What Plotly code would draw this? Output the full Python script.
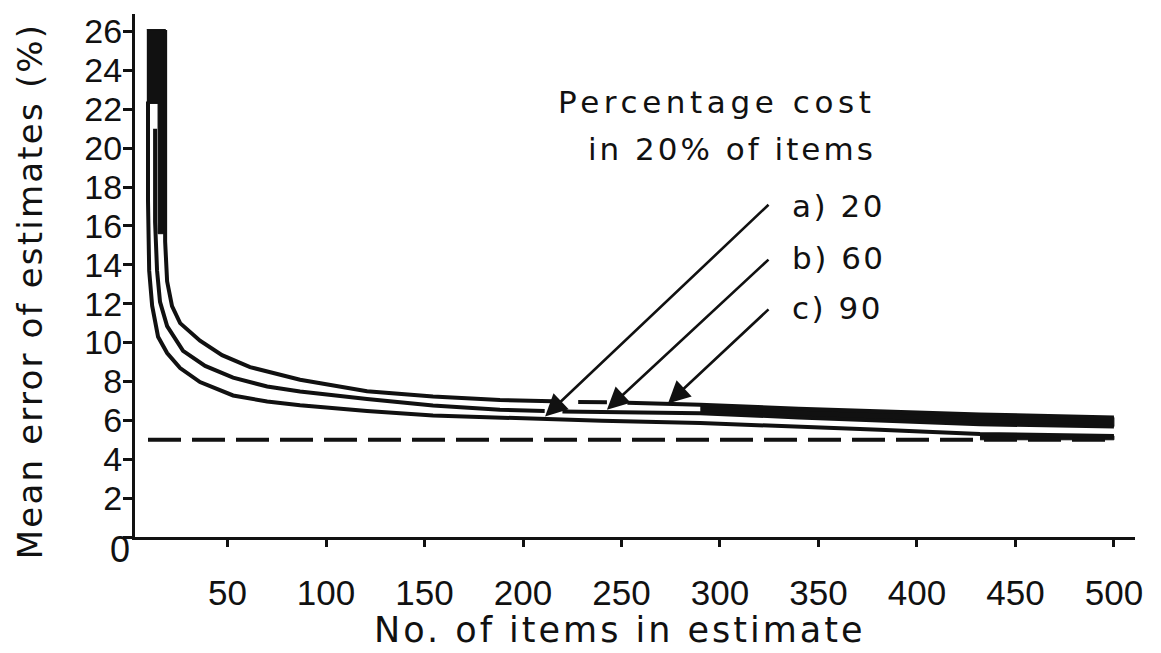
import plotly.graph_objects as go

# Mean error of estimates (%) against number of items in the estimate,
# for three cost concentrations (percentage of cost held in 20% of items).
a_x = [9.6, 9.6, 10.2, 11.7, 14.7, 19.3, 25.9, 36.0, 52.8, 70.1, 86.8, 120.8, 154.3,
       188.3, 211, 240, 290, 340, 381, 432, 500]
a_y = [22.4, 17.3, 13.7, 11.9, 10.3, 9.46, 8.69, 7.97, 7.28, 6.97, 6.78, 6.48, 6.25,
       6.13, 6.06, 5.98, 5.86, 5.7, 5.52, 5.3, 5.2]

b_x = [13.2, 13.2, 14.2, 15.7, 19.3, 27.4, 38.6, 52.8, 70.1, 86.8, 120.8, 154.3,
       188.3, 211, None, 220, 290, 340, 381, 432, 500]
b_y = [21.0, 16.2, 13.7, 12.1, 10.85, 9.57, 8.8, 8.2, 7.74, 7.48, 7.1, 6.76,
       6.54, 6.48, None, 6.45, 6.37, 6.15, 6.0, 5.8, 5.68]

c_x = [18.3, 18.3, 19.3, 21.8, 25.9, 36.0, 47.2, 61.4, 86.8, 120.8, 154.3, 188.3,
       215, None, 228, 242.6, None, 253, 290, 340, 381, 432, 500]
c_y = [26.08, 15.2, 13.15, 11.87, 11.0, 10.1, 9.35, 8.74, 8.09, 7.5, 7.23, 7.05,
       6.98, None, 6.95, 6.93, None, 6.9, 6.8, 6.6, 6.45, 6.3, 6.15]

# inked block where the three curves crowd together at very small samples
block_x = [9.0, 18.5, 18.5, 14.7, 14.7, 9.0]
block_y = [26.1, 26.1, 15.6, 15.6, 22.3, 22.3]

# 5% reference level
ref_x = [9.6, 500]
ref_y = [5, 5]

# curve labels and the points their arrows indicate (tip) / start from (tail)
curve_labels = ["a) 20", "b) 60", "c) 90"]
tip_x = [211.2, 242.6, 273.6]
tip_y = [6.2, 6.55, 6.87]
tail_x = [325.4, 325.4, 325.4]
tail_y = [17.16, 14.34, 11.78]
label_y = [17.0, 14.34, 11.78]

x_ticks = [50, 100, 150, 200, 250, 300, 350, 400, 450, 500]
y_ticks = [0, 2, 4, 6, 8, 10, 12, 14, 16, 18, 20, 22, 24, 26]

INK = "#111111"
TEXT_FONT = "DejaVu Sans"
TICK_FONT = "Liberation Sans"


def spaced(text, px):
    return f'<span style="letter-spacing:{px}px">{text}</span>'


fig = go.Figure()

fig.add_trace(go.Scatter(x=block_x, y=block_y, mode="lines", fill="toself",
                         fillcolor=INK, line=dict(color=INK, width=1),
                         hoverinfo="skip", showlegend=False))

# top two curves run together into a single heavy band at large samples
top_tail = [(x, y) for x, y in zip(c_x, c_y) if x is not None and x >= 290]
mid_tail = [(x, y) for x, y in zip(b_x, b_y) if x is not None and x >= 290]
band_x = [p[0] for p in top_tail] + [p[0] for p in reversed(mid_tail)]
band_y = [p[1] for p in top_tail] + [p[1] for p in reversed(mid_tail)]
fig.add_trace(go.Scatter(x=band_x, y=band_y, mode="lines", fill="toself",
                         fillcolor=INK, line=dict(color=INK, width=1),
                         hoverinfo="skip", showlegend=False))

# lowest curve merging into the reference line at the right-hand end
low_tail = [(x, y) for x, y in zip(a_x, a_y) if x >= 432]
merge_x = [p[0] for p in low_tail] + [p[0] for p in reversed(low_tail)]
merge_y = [p[1] for p in low_tail] + [ref_y[0]] * len(low_tail)
fig.add_trace(go.Scatter(x=merge_x, y=merge_y, mode="lines", fill="toself",
                         fillcolor=INK, line=dict(color=INK, width=1),
                         hoverinfo="skip", showlegend=False))

fig.add_trace(go.Scatter(x=ref_x, y=ref_y, mode="lines",
                         line=dict(color=INK, width=4, dash="33px,11px"),
                         hoverinfo="skip", showlegend=False))

for xs, ys in [(a_x, a_y), (b_x, b_y), (c_x, c_y)]:
    fig.add_trace(go.Scatter(x=xs, y=ys, mode="lines", connectgaps=False,
                             line=dict(color=INK, width=4),
                             hoverinfo="skip", showlegend=False))

annotations = []
for lab, tx, ty, sx, sy, ly in zip(curve_labels, tip_x, tip_y, tail_x, tail_y, label_y):
    annotations.append(dict(x=tx, y=ty, ax=sx, ay=sy, xref="x", yref="y",
                            axref="x", ayref="y", text="", showarrow=True,
                            arrowhead=2, arrowsize=1.7, arrowwidth=2.6,
                            arrowcolor=INK))
    annotations.append(dict(x=335.5, y=ly, xref="x", yref="y", text=spaced(lab, 2.5),
                            showarrow=False, xanchor="left", yanchor="middle",
                            font=dict(family=TEXT_FONT, size=31, color=INK)))

annotations += [
    dict(x=380.2, y=22.39, xref="x", yref="y", text=spaced("Percentage cost", 4.6),
         showarrow=False, xanchor="right", yanchor="middle",
         font=dict(family=TEXT_FONT, size=31, color=INK)),
    dict(x=380.2, y=19.98, xref="x", yref="y", text=spaced("in 20% of items", 3.0),
         showarrow=False, xanchor="right", yanchor="middle",
         font=dict(family=TEXT_FONT, size=31, color=INK)),
    dict(x=0.485, y=-0.177, xref="paper", yref="paper",
         text=spaced("No. of items in estimate", 3),
         showarrow=False, xanchor="center", yanchor="middle",
         font=dict(family=TEXT_FONT, size=35, color=INK)),
    dict(x=-0.105, y=0.47, xref="paper", yref="paper",
         text=spaced("Mean error of estimates (%)", 2.2), textangle=-90,
         showarrow=False, xanchor="center", yanchor="middle",
         font=dict(family=TEXT_FONT, size=34, color=INK)),
    dict(x=-0.015, y=-0.023, xref="paper", yref="paper", text="0",
         showarrow=False, xanchor="center", yanchor="middle",
         font=dict(family=TICK_FONT, size=36, color=INK)),
]

fig.update_layout(
    width=1161, height=653,
    margin=dict(l=135, r=26, t=12, b=116),
    paper_bgcolor="white", plot_bgcolor="white",
    showlegend=False,
    annotations=annotations,
    xaxis=dict(range=[3, 510.7], showgrid=False, zeroline=False,
               showline=True, linecolor=INK, linewidth=3,
               ticks="outside", ticklen=7, tickwidth=2.5, tickcolor=INK,
               tickvals=x_ticks, ticktext=[str(v) for v in x_ticks],
               ticklabelstandoff=16,
               tickfont=dict(family=TICK_FONT, size=35, color=INK)),
    yaxis=dict(range=[0, 26.9], showgrid=False, zeroline=False,
               showline=True, linecolor=INK, linewidth=3,
               ticks="outside", ticklen=9, tickwidth=2.5, tickcolor=INK,
               tickvals=y_ticks, ticktext=["" if v == 0 else str(v) for v in y_ticks],
               ticklabelstandoff=-6,
               tickfont=dict(family=TICK_FONT, size=34, color=INK)),
)

fig.write_html("out.html")
